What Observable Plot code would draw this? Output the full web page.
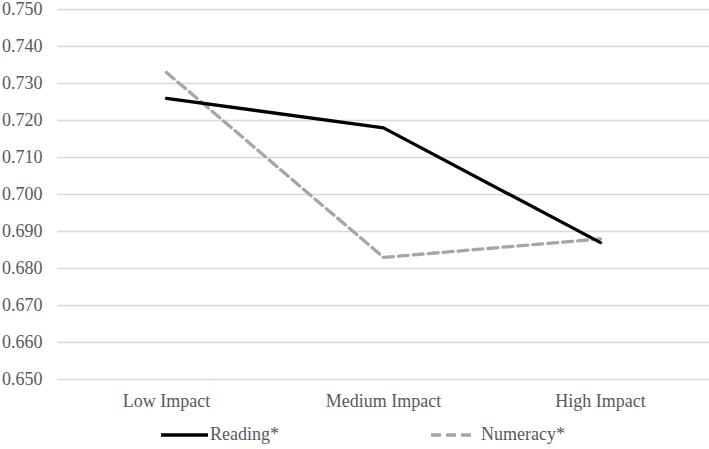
<!DOCTYPE html>
<html>
<head>
<meta charset="utf-8">
<script src="https://cdn.jsdelivr.net/npm/d3@7"></script>
<script src="https://cdn.jsdelivr.net/npm/@observablehq/plot@0.6"></script>
<style>
  body { margin: 0; background: #fff; font-family: "Liberation Serif", "Times New Roman", serif; }
  #legend { position: relative; width: 709px; height: 29px; font-size: 18px; color: #595959; }
  .item { position: absolute; top: 0; height: 29px; display: flex; align-items: center; }
</style>
</head>
<body>
<div id="chart"></div>
<div id="legend"></div>
<script>
const categories = ["Low Impact", "Medium Impact", "High Impact"];
const reading = [0.726, 0.718, 0.687];
const numeracy = [0.733, 0.683, 0.688];
const yTicks = [0.65, 0.66, 0.67, 0.68, 0.69, 0.70, 0.71, 0.72, 0.73, 0.74, 0.75];
const seriesNames = ["Reading*", "Numeracy*"];

const data = [
  ...categories.map((c, i) => ({cat: c, value: reading[i], series: seriesNames[0]})),
  ...categories.map((c, i) => ({cat: c, value: numeracy[i], series: seriesNames[1]}))
];

const chart = Plot.plot({
  width: 709,
  height: 420,
  marginLeft: 57,
  marginRight: 0,
  marginTop: 9,
  marginBottom: 41,
  style: {fontFamily: "'Liberation Serif', 'Times New Roman', serif", fontSize: "18px", color: "#595959", background: "#fff"},
  x: {type: "point", domain: categories, padding: 0.5, label: null, tickSize: 0, tickPadding: 16},
  y: {domain: [0.65, 0.75], ticks: yTicks, tickFormat: d3.format(".3f"), label: null, tickSize: 0, tickPadding: 15},
  marks: [
    Plot.gridY(yTicks, {stroke: "#d9d9d9", strokeOpacity: 1, strokeWidth: 1.3}),
    Plot.axisY(yTicks, {tickSize: 0, tickPadding: 15, tickFormat: d3.format(".3f"), label: null, fill: "#595959", fontSize: 18}),
    Plot.axisX({tickSize: 0, tickPadding: 15, label: null, fill: "#595959", fontSize: 18}),
    Plot.line(data.filter(d => d.series === seriesNames[1]), {x: "cat", y: "value", stroke: "#a6a6a6", strokeWidth: 3.3, strokeDasharray: "10,5"}),
    Plot.line(data.filter(d => d.series === seriesNames[0]), {x: "cat", y: "value", stroke: "#000000", strokeWidth: 3.3})
  ]
});
document.getElementById("chart").appendChild(chart);

const legend = document.getElementById("legend");
const items = [
  {name: seriesNames[0], left: 161, stroke: "#000", dash: null, w: 47, gap: 2},
  {name: seriesNames[1], left: 431, stroke: "#a6a6a6", dash: "10,5", w: 40, gap: 10}
];
for (const it of items) {
  const div = document.createElement("div");
  div.className = "item";
  div.style.left = it.left + "px";
  div.innerHTML = `<svg width="${it.w}" height="6" style="margin-right:${it.gap}px"><line x1="0" x2="${it.w}" y1="3" y2="3" stroke="${it.stroke}" stroke-width="3.3" ${it.dash ? `stroke-dasharray="${it.dash}"` : ""}/></svg><span>${it.name}</span>`;
  legend.appendChild(div);
}
</script>
</body>
</html>
